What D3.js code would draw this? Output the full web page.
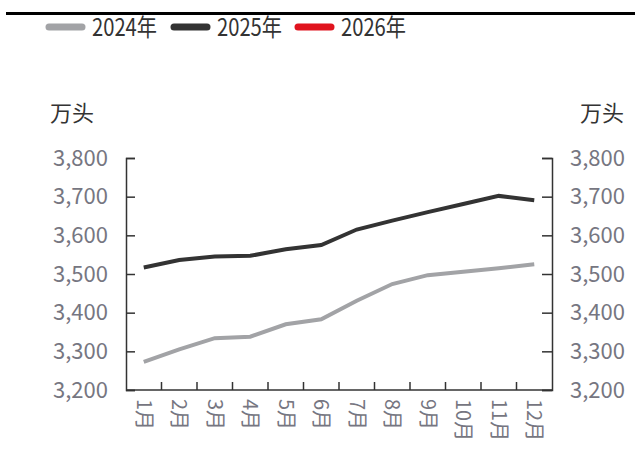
<!DOCTYPE html>
<html>
<head>
<meta charset="utf-8">
<script src="https://cdn.jsdelivr.net/npm/d3@7"></script>
<style>
  body { margin: 0; background: #fff; }
  text { font-family: "Noto Sans CJK SC", "Noto Sans", sans-serif; }
</style>
</head>
<body>
<div id="chart"></div>
<script>
// Data
var months = ["1月", "2月", "3月", "4月", "5月", "6月", "7月", "8月", "9月", "10月", "11月", "12月"];
var seriesNames = ["2024年", "2025年", "2026年"];
var seriesColors = ["#a2a3a6", "#333333", "#e0131e"];
var values2024 = [3273, 3305, 3334, 3338, 3370, 3383, 3431, 3474, 3497, 3506, 3515, 3525];
var values2025 = [3517, 3536, 3545, 3547, 3564, 3575, 3615, 3638, 3660, 3681, 3702, 3691];
var values2026 = [];
var yTicks = [3200, 3300, 3400, 3500, 3600, 3700, 3800];

var series = [values2024, values2025, values2026];

var W = 635, H = 452;
var margin = {top: 158, right: 83, bottom: 62, left: 126};
var width = W - margin.left - margin.right;
var height = H - margin.top - margin.bottom;

var svg = d3.select("#chart").append("svg")
    .attr("width", W)
    .attr("height", H);

// top rule
svg.append("line")
    .attr("x1", 6).attr("x2", W)
    .attr("y1", 13.5).attr("y2", 13.5)
    .attr("stroke", "#000")
    .attr("stroke-width", 3);

// legend
var legendX = [49, 174, 298];
var legend = svg.append("g").selectAll(".legendItem")
    .data(seriesNames)
    .enter().append("g")
    .attr("class", "legendItem")
    .attr("transform", function(d, i) { return "translate(" + legendX[i] + ",27)"; });

legend.append("line")
    .attr("x1", 0).attr("x2", 33)
    .attr("stroke", function(d, i) { return seriesColors[i]; })
    .attr("stroke-width", 7)
    .attr("stroke-linecap", "round");

legend.append("text")
    .attr("x", 43)
    .attr("y", 9)
    .attr("textLength", 65)
    .attr("lengthAdjust", "spacingAndGlyphs")
    .style("font-size", "24px")
    .attr("fill", "#333")
    .text(function(d) { return d; });

var x = d3.scaleBand()
    .domain(months)
    .range([0, width]);

var y = d3.scaleLinear()
    .domain([3200, 3800])
    .range([height, 0]);

var g = svg.append("g")
    .attr("transform", "translate(" + margin.left + "," + margin.top + ")");

var fmt = d3.format(",");

// left axis
var yLeft = d3.axisLeft(y).tickValues(yTicks).tickSize(-9).tickFormat(fmt).tickPadding(18);
var gl = g.append("g").attr("class", "axis").call(yLeft);
// right axis
var yRight = d3.axisRight(y).tickValues(yTicks).tickSize(-10).tickFormat(fmt).tickPadding(18);
var gr = g.append("g").attr("class", "axis").attr("transform", "translate(" + width + ",0)").call(yRight);

[gl, gr].forEach(function(a) {
  a.select(".domain").attr("stroke", "#333").attr("stroke-width", 1.5);
  a.selectAll(".tick line").attr("stroke", "#333").attr("stroke-width", 1.5);
  a.selectAll(".tick text")
    .attr("fill", "#767681")
    .style("font-size", "22px")
    .style("font-family", "'Noto Sans CJK SC', sans-serif");
});

// bottom axis: ticks at category boundaries
var boundaries = months.slice(1);
var xb = g.append("g")
    .attr("transform", "translate(0," + height + ")");
xb.append("line")
    .attr("x1", 0).attr("x2", width)
    .attr("stroke", "#333").attr("stroke-width", 1.5);
xb.selectAll(".xtick")
    .data(boundaries)
    .enter().append("line")
    .attr("class", "xtick")
    .attr("x1", function(d) { return x(d); })
    .attr("x2", function(d) { return x(d); })
    .attr("y1", 0).attr("y2", -8)
    .attr("stroke", "#333").attr("stroke-width", 1.5);

xb.selectAll(".xlabel")
    .data(months)
    .enter().append("text")
    .attr("class", "xlabel")
    .attr("transform", function(d) {
      return "translate(" + (x(d) + x.bandwidth() / 2) + ",9) rotate(90)";
    })
    .attr("dy", "0.35em")
    .attr("fill", "#767681")
    .style("font-size", "20px")
    .text(function(d) { return d; });

// lines
var line = d3.line()
    .x(function(d, i) { return x(months[i]) + x.bandwidth() / 2; })
    .y(function(d) { return y(d); });

g.selectAll(".series")
    .data(series)
    .enter().append("path")
    .attr("class", "series")
    .attr("fill", "none")
    .attr("stroke", function(d, i) { return seriesColors[i]; })
    .attr("stroke-width", 4)
    .attr("d", function(d) { return d.length ? line(d) : null; });

// unit labels
svg.append("text")
    .attr("x", 50).attr("y", 121)
    .style("font-size", "22px")
    .attr("fill", "#333")
    .text("万头");
svg.append("text")
    .attr("x", 580).attr("y", 121)
    .style("font-size", "22px")
    .attr("fill", "#333")
    .text("万头");
</script>
</body>
</html>
